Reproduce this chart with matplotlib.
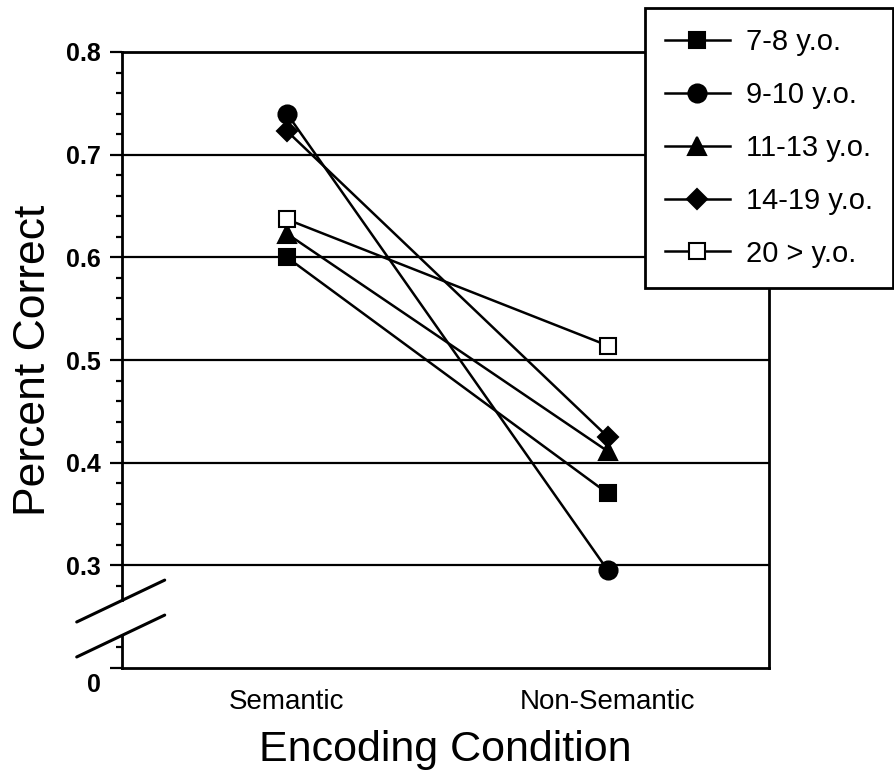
import numpy as np
import matplotlib
matplotlib.use("Agg")
import matplotlib.pyplot as plt
from matplotlib.lines import Line2D
import matplotlib.transforms as mtransforms

plt.rcParams['font.family'] = ['Liberation Sans', 'DejaVu Sans']

# data
conditions = ['Semantic', 'Non-Semantic']
groups = ['7-8 y.o.', '9-10 y.o.', '11-13 y.o.', '14-19 y.o.', '20 > y.o.']
age_7_8 = [0.600, 0.370]
age_9_10 = [0.740, 0.295]
age_11_13 = [0.623, 0.411]
age_14_19 = [0.723, 0.425]
age_20_up = [0.637, 0.514]
series = [age_7_8, age_9_10, age_11_13, age_14_19, age_20_up]

ytick_vals = [0.2, 0.3, 0.4, 0.5, 0.6, 0.7, 0.8]
ytick_labels = ['0', '0.3', '0.4', '0.5', '0.6', '0.7', '0.8']
minor_vals = [0.22] + list(np.round(np.arange(0.28, 0.8, 0.02), 2))

markers = ['s', 'o', '^', 'D', 's']
faces = ['black', 'black', 'black', 'black', 'white']
msizes = [12, 13, 13, 10, 12]

fig = plt.figure(figsize=(8.94, 7.7), dpi=100)
ax = fig.add_axes([122/894, 1 - 668/770, (769-122)/894, (668-52)/770])

x = np.arange(1, len(conditions) + 1)
for vals, name, m, fc, ms in zip(series, groups, markers, faces, msizes):
    ax.plot(x, vals, color='black', lw=1.8, marker=m, markersize=ms,
            markerfacecolor=fc, markeredgecolor='black', markeredgewidth=1.5,
            label=name, zorder=3)

ax.set_xlim(0.486, 2.502)
ax.set_ylim(0.2, 0.8)

# horizontal grid lines
for v in ytick_vals[1:-1]:
    ax.axhline(v, color='black', lw=1.6, zorder=1)

ax.set_xticks(x)
ax.set_xticklabels(conditions, fontsize=20)
ax.tick_params(axis='x', length=0, pad=15)

ax.set_yticks(ytick_vals)
ax.set_yticklabels(ytick_labels, fontsize=18, fontweight='bold')
ax.set_yticks(minor_vals, minor=True)
ax.tick_params(axis='y', which='major', length=9, width=1.6, pad=6)
ax.tick_params(axis='y', which='minor', length=4.5, width=1.6)
# the "0" label sits a bit lower than its tick
zero_lab = ax.get_yticklabels()[0]
zero_lab.set_transform(zero_lab.get_transform() +
                       mtransforms.ScaledTranslation(0, -14/100, fig.dpi_scale_trans))

for s in ax.spines.values():
    s.set_linewidth(2)

ax.set_xlabel('Encoding Condition', fontsize=31, labelpad=11)
ax.set_ylabel('Percent Correct', fontsize=32, labelpad=9)

# broken axis: left spine drawn in two pieces, plus two slashes
ax.spines['left'].set_visible(False)
for y_lo, y_hi in [(0.0, 0.052), (0.110, 1.0)]:
    ax.add_line(Line2D([0, 0], [y_lo, y_hi], transform=ax.transAxes,
                       color='black', lw=2, clip_on=False, zorder=5))
for y0 in [0.0747, 0.0179]:
    ax.add_line(Line2D([-0.070, 0.066], [y0, y0 + 0.068], transform=ax.transAxes,
                       color='black', lw=2.2, clip_on=False, zorder=6,
                       solid_capstyle='round'))

leg = fig.legend(loc='upper right', bbox_to_anchor=(893/894, 1 - 8/770),
                 fontsize=21, frameon=True, fancybox=False, handlelength=2.2,
                 handletextpad=0.55, labelspacing=0.85, borderpad=0.7,
                 borderaxespad=0, edgecolor='black', framealpha=1)
leg.get_frame().set_linewidth(2)

fig.savefig('out.png', dpi=100)
